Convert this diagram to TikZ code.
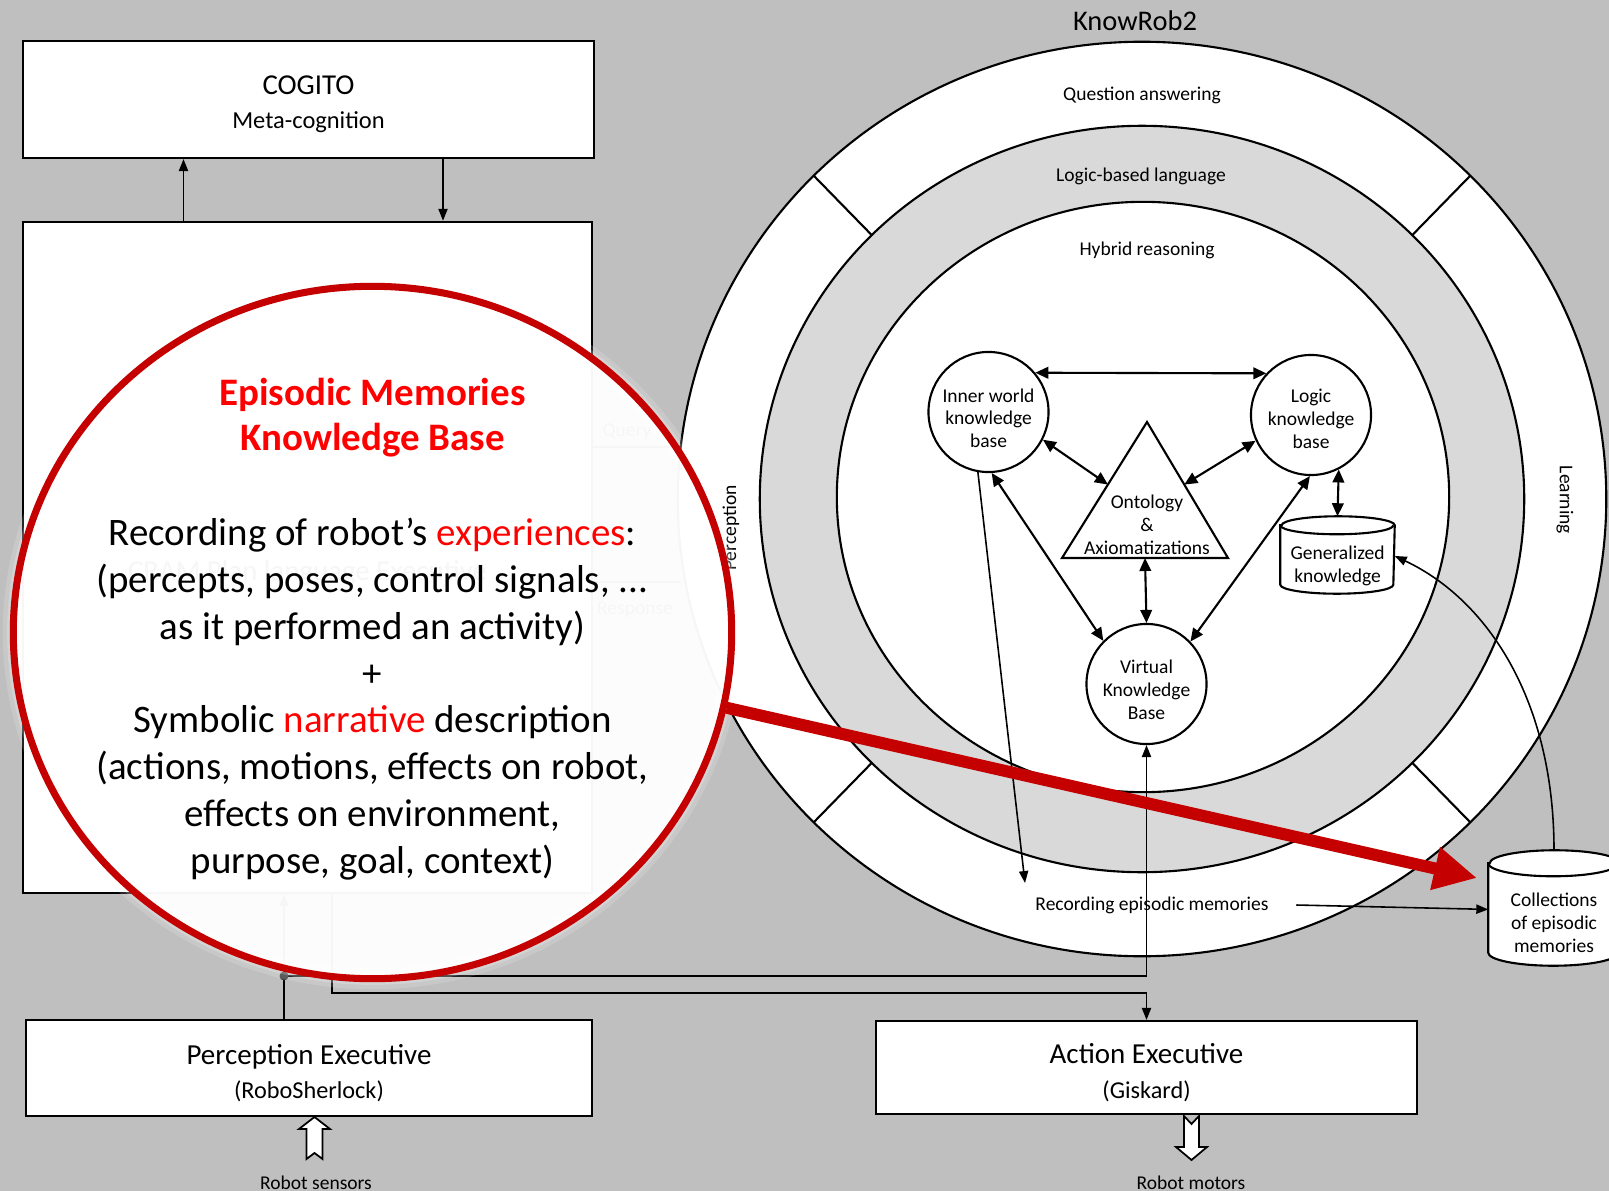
\documentclass[tikz,border=0pt]{standalone}
\usepackage{fontspec}
\setmainfont{Carlito}
\usetikzlibrary{arrows.meta,shapes.geometric,calc,positioning}

\definecolor{bggray}{RGB}{191,191,191}
\definecolor{ringgray}{RGB}{217,217,217}
\definecolor{lensred}{RGB}{196,0,0}
\definecolor{hotred}{RGB}{255,0,0}

% drum outline around an empty node: #1 node, #2 half width, #3 rim depth
\newcommand{\drum}[3]{%
    \draw[line width=0.6pt, fill=white] ([yshift=#3]#1.north west) -- ([yshift=#3]#1.south west)
        arc[start angle=180, end angle=360, x radius=#2, y radius=#3]
        -- ([yshift=#3]#1.north east)
        arc[start angle=0, end angle=180, x radius=#2, y radius=#3] -- cycle;
    \draw[line width=0.6pt] ([yshift=#3]#1.north west)
        arc[start angle=180, end angle=360, x radius=#2, y radius=#3];}

\begin{document}
\begin{tikzpicture}[x=0.01cm, y=-0.01cm,
    box/.style={draw, fill=white, line width=0.6pt, align=center, inner sep=0pt},
    kb/.style={circle, draw, fill=white, line width=0.6pt, minimum size=1.2cm, inner sep=0pt, align=center,
        font=\fontsize{5.55}{6.5}\selectfont},
    tag/.style={font=\fontsize{5.55}{6.5}\selectfont, align=center, inner sep=0pt},
    drumbox/.style={inner sep=0pt},
    twoway/.style={line width=0.6pt, {Triangle[length=3.7pt,width=3.3pt]}-{Triangle[length=3.7pt,width=3.3pt]}},
    wire/.style={line width=0.45pt, -{Triangle[length=3.4pt,width=2.6pt]}},
    hollow/.style={draw, fill=white, line width=0.5pt}]
    \useasboundingbox (0,0) rectangle (1609,1191);
    \fill[bggray] (0,0) rectangle (1609,1191);

    \node[box, minimum width=5.71cm, minimum height=1.17cm, font=\fontsize{8.2}{9.7}\selectfont] (cogito) at (308.5,99.5)
        {\rule{0pt}{8.2pt}COGITO\\{\fontsize{6.95}{9.7}\selectfont Meta-cognition}};
    \node[box, minimum width=5.69cm, minimum height=6.71cm, font=\fontsize{8.2}{10.3}\selectfont] (mid) at (307.5,557.5)
        {\rule{0pt}{14.4pt}CRAM Plan language Executive};
    \coordinate (asc) at (183.5,190);
    \coordinate (desc) at (443,190);
    \draw[wire] (mid.north -| asc) -- (cogito.south -| asc);
    \draw[wire] (cogito.south -| desc) -- (mid.north -| desc);
    \coordinate (query) at (681,447);
    \coordinate (response) at (681,582);
    \draw[line width=0.45pt] (mid.east |- query) -- (query);
    \draw[line width=0.45pt] (mid.east |- response) -- (response);
    \node[tag] (querytext) at (627,432) {Query};
    \node[tag] (responsetext) at (635,610) {Response};

    \coordinate (kr) at (1142,499);
    \filldraw[fill=white, line width=0.6pt] (kr) ellipse [x radius=4.64cm, y radius=4.57cm];
    \filldraw[fill=ringgray, line width=0.6pt] (kr) ellipse [x radius=3.82cm, y radius=3.73cm];
    \filldraw[fill=white, line width=0.6pt] (1143,497) ellipse [x radius=3.06cm, y radius=2.95cm];
    \foreach \a in {45,135,225,315}
        \draw[line width=0.6pt] ($(kr)+(\a:3.82cm and 3.73cm)$) -- ($(kr)+(\a:4.64cm and 4.57cm)$);
    \node[font=\fontsize{8.1}{9.7}\selectfont] (krtitle) at (1135,21) {KnowRob2};
    \node[tag] (qa) at (1142,95) {Question answering};
    \node[tag] (lang) at (1141,176) {Logic-based language};
    \node[tag] (hybrid) at (1147,250) {Hybrid reasoning};
    \node[tag, rotate=-90] (learn) at (1565,500) {Learning};
    \node[tag, rotate=90] (percept) at (731,528) {Perception};

    \node[kb] (iw) at (988.5,412) {\rule{0pt}{7.4pt}Inner world\\knowledge\\base};
    \node[kb] (lk) at (1311,415) {\rule{0pt}{5.9pt}Logic\\knowledge\\base};
    \node[kb] (vkb) at (1146.5,684) {\rule{0pt}{7.2pt}Virtual\\Knowledge\\Base};
    \coordinate (apex) at (1147,422);
    \coordinate (bl) at (1062,558);
    \coordinate (br) at (1228,558);
    \filldraw[fill=white, line width=0.6pt] (apex) -- (bl) -- (br) -- cycle;
    \node[tag] (onto) at (1147,525) {Ontology\\\&\\Axiomatizations};
    \node[drumbox, minimum width=1.13cm, minimum height=0.58cm] (gk) at (1337.5,564) {};
    \drum{gk}{0.565cm}{0.09cm}
    \node[tag] (gktext) at ([yshift=-0.02cm]gk.center) {Generalized\\knowledge};

    \draw[twoway] (iw.40) -- (lk.137);
    \draw[twoway] (iw.-27) -- ($(apex)!0.46!(bl)$);
    \draw[twoway] (lk.205) -- ($(apex)!0.46!(br)$);
    \draw[twoway] (iw.-87) -- (vkb.135);
    \draw[twoway] (lk.-91) -- (vkb.44);
    \draw[twoway] ($(bl)!0.5!(br)$) -- (vkb.north);
    \draw[twoway] (lk.-63) -- ([yshift=0.18cm]gk.north);

    \node[drumbox, minimum width=1.30cm, minimum height=0.88cm] (coll) at (1554,921) {};
    \drum{coll}{0.65cm}{0.13cm}
    \node[tag] (colltext) at ([yshift=-0.02cm]coll.center) {Collections\\of episodic\\memories};

    \node[box, minimum width=5.66cm, minimum height=0.96cm, font=\fontsize{8.25}{9.7}\selectfont] (perc) at (309,1068)
        {\rule{0pt}{8.4pt}Perception Executive\\{\fontsize{6.9}{9.7}\selectfont (RoboSherlock)}};
    \node[box, minimum width=5.41cm, minimum height=0.93cm, font=\fontsize{8.25}{9.7}\selectfont] (act) at (1146.5,1067.5)
        {\rule{0pt}{8.6pt}Action Executive\\{\fontsize{6.9}{9.7}\selectfont (Giskard)}};

    \coordinate (split) at (284,976);
    \coordinate (drop) at (332,993);
    \draw[wire] (perc.north -| split) -- (mid.south -| split);
    \draw[wire] (split) -| (vkb.south);
    \draw[wire] (mid.south -| drop) -- (drop) -| (act.north);
    \fill[black!75] (split) circle [radius=0.045cm];

    \node[tag, inner xsep=0.27cm] (rec) at (1152,905) {Recording episodic memories};
    \coordinate (recin) at (1025,883);
    \draw[wire] (iw.-100) -- (recin);
    \draw[wire] (rec.east) -- (coll.170);
    \draw[wire] ([yshift=0.26cm]coll.north) .. controls +(0,-150) and +(93,44) .. (gk.8);

    \draw[hollow] (314.5,1117) -- (330,1129) -- (322.5,1129) -- (322.5,1159) -- (314.5,1153)
        -- (306.5,1159) -- (306.5,1129) -- (299,1129) -- cycle;
    \draw[hollow] (1184,1116) -- (1191.5,1124) -- (1199,1116) -- (1199,1147) -- (1207,1147)
        -- (1191.5,1160) -- (1176,1147) -- (1184,1147) -- cycle;
    \node[tag] (sensors) at (316,1183) {Robot sensors};
    \node[tag] (motors) at (1191,1183) {Robot motors};

    \foreach \w/\o in {6pt/0.15, 3.5pt/0.2}
        \draw[white, line width=\w, opacity=\o] (372.5,632.5) ellipse [x radius=3.59cm, y radius=3.46cm];
    \node[ellipse, draw=lensred, line width=2pt, fill=white, fill opacity=0.965,
        minimum width=7.18cm, minimum height=6.92cm] (lens) at (372.5,632.5) {};
    \node[font=\bfseries\fontsize{11.07}{12.8}\selectfont, text=hotred, align=center] (memtitle) at (372.5,418)
        {Episodic Memories\\Knowledge Base};
    \node[font=\fontsize{11.07}{13.3}\selectfont, align=center] (membody) at (372.5,699)
        {Recording of robot’s \textcolor{hotred}{experiences}:\\
         (percepts, poses, control signals, ...\\
         as it performed an activity)\\
         +\\
         Symbolic \textcolor{hotred}{narrative} description\\
         (actions, motions, effects on robot,\\
         effects on environment,\\
         purpose, goal, context)};
    \coordinate (hit) at (1477,878);
    \draw[lensred, line width=0.12cm, -{Triangle[length=0.43cm,width=0.41cm]}] (lens.-12.4) -- (hit);
\end{tikzpicture}
\end{document}
